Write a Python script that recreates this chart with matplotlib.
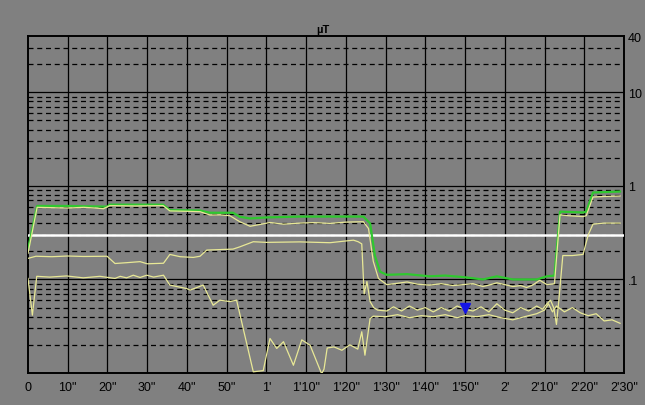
import matplotlib
matplotlib.use("Agg")
import matplotlib.pyplot as plt

plt.rcParams['font.family'] = ['Liberation Sans Narrow', 'Liberation Sans', 'DejaVu Sans']

# tiempo en segundos, valores en microTesla
x_ticks = [0, 10, 20, 30, 40, 50, 60, 70, 80, 90, 100, 110, 120, 130, 140, 150]
x_labels = ['0', '10"', '20"', '30"', '40"', '50"', "1'", "1'10\"", "1'20\"", "1'30\"",
            "1'40\"", "1'50\"", "2'", "2'10\"", "2'20\"", "2'30\""]
y_ticks = [0.1, 1, 10, 40]
y_labels = ['.1', '1', '10', '40']

green_t = [0, 2.3, 10, 19.9, 20.6, 34, 35.7, 43.3, 45.8, 51.6, 53.3, 55.9, 60, 68.4, 76,
           84.4, 86.1, 87.3, 88.6, 90.3, 95.4, 101, 105, 109.5, 114.5, 118, 122, 128,
           130.6, 132.5, 133.9, 139.7, 140.5, 142.2, 149]
green_v = [0.21, 0.61, 0.61, 0.60, 0.63, 0.63, 0.55, 0.545, 0.516, 0.516, 0.467, 0.449,
           0.46, 0.47, 0.47, 0.47, 0.397, 0.18, 0.121, 0.112, 0.114, 0.108, 0.11, 0.106,
           0.10, 0.108, 0.10, 0.10, 0.108, 0.11, 0.53, 0.52, 0.53, 0.85, 0.87]

a_t = [0, 2.3, 6, 10, 14, 17, 19, 20.6, 27, 34, 35.7, 40, 43.3, 45.8, 48.3, 50.8, 53.3,
       55.9, 58.4, 60.9, 64.3, 68.4, 72, 76, 80, 84.4, 85.7, 86.9, 88.2, 90.3, 93, 95.4,
       98, 101, 104, 107, 109.5, 112, 114.5, 116, 118, 120, 122, 124, 125.5, 127, 128.8,
       130.6, 132.5, 133.9, 136, 139.7, 140.5, 142.2, 145, 149]
a_v = [0.19, 0.59, 0.585, 0.58, 0.59, 0.58, 0.57, 0.615, 0.61, 0.615, 0.54, 0.535, 0.53,
       0.488, 0.49, 0.48, 0.414, 0.37, 0.387, 0.406, 0.39, 0.40, 0.405, 0.397, 0.41,
       0.414, 0.35, 0.156, 0.1025, 0.088, 0.091, 0.094, 0.089, 0.087, 0.09, 0.086, 0.088,
       0.09, 0.084, 0.087, 0.092, 0.088, 0.084, 0.086, 0.082, 0.087, 0.098, 0.088, 0.09,
       0.49, 0.48, 0.47, 0.48, 0.76, 0.77, 0.78]

b_t = [0, 2, 6, 10, 14, 19.9, 21.9, 24.8, 28.2, 30, 34.1, 35.7, 38.3, 41.6, 43.3, 45,
       51.6, 53.3, 56.7, 60, 68.4, 76, 81.9, 83.1, 84.0, 84.6, 85.3, 86.1, 87, 88, 90.3,
       92, 94, 96, 98, 100, 102, 104, 106, 108, 110, 112, 114, 116, 118, 120, 122, 124,
       126, 128, 129.5, 130.6, 131.5, 132.3, 133, 133.6, 134.6, 137, 139.7, 141, 142.2,
       145, 149]
b_v = [0.168, 0.177, 0.175, 0.178, 0.176, 0.177, 0.148, 0.151, 0.155, 0.147, 0.149,
       0.185, 0.175, 0.172, 0.177, 0.206, 0.211, 0.223, 0.253, 0.249, 0.252, 0.247,
       0.263, 0.253, 0.24, 0.07, 0.095, 0.058, 0.05, 0.047, 0.046,
       0.051, 0.046, 0.052, 0.047, 0.05, 0.045, 0.05, 0.046, 0.052, 0.048, 0.046, 0.051,
       0.045, 0.055, 0.047, 0.044, 0.05, 0.046, 0.052, 0.048, 0.055, 0.06, 0.05, 0.033,
       0.06, 0.18, 0.18, 0.185, 0.3, 0.39, 0.40, 0.40]

c_t = [0, 1.1, 2.2, 5.5, 9.7, 13.9, 18.1, 21.9, 23.2, 24.8, 26.5, 28.2, 29.9, 31.6,
       34.1, 35.7, 39.9, 40.8, 44.1, 46.6, 48.3, 50.8, 52.5, 56.7, 59.2, 60.9, 62.6,
       64.3, 66.8, 68.9, 71, 73.9, 74.5, 75.3, 77, 79, 81, 83, 84, 84.8, 86.1, 86.9,
       90, 93, 96, 99, 102, 105, 108, 110, 113, 116, 119, 122, 125, 128, 130, 131, 132,
       133, 135, 137, 139, 141, 143, 145, 147, 149]
c_v = [0.1025, 0.0415, 0.108, 0.106, 0.109, 0.104, 0.108, 0.1025, 0.108, 0.104, 0.111,
       0.105, 0.111, 0.106, 0.111, 0.087, 0.080, 0.077, 0.087, 0.053, 0.060, 0.058,
       0.060, 0.0103, 0.0106, 0.0234, 0.0183, 0.0216, 0.0121, 0.0226, 0.0198, 0.0098,
       0.011, 0.0185, 0.019, 0.0175, 0.020, 0.018, 0.0276, 0.0155, 0.0383, 0.0405,
       0.040, 0.042, 0.039, 0.041, 0.040, 0.042, 0.039, 0.041, 0.040, 0.042, 0.039,
       0.037, 0.040, 0.043, 0.047, 0.055, 0.045, 0.052, 0.045, 0.05, 0.044, 0.041,
       0.043, 0.036, 0.037, 0.034]

limite = 0.3
marca_t, marca_v = 110, 0.05

grey = '#808080'
yellow = '#e8e896'
green = '#2fc82f'

fig = plt.figure(figsize=(6.45, 4.06), dpi=100, facecolor=grey)
ax = fig.add_axes([28/645, 1 - 374/406, 596/645, 337/406])
ax.set_facecolor(grey)
ax.set_yscale('log')
ax.set_xlim(0, 150)
ax.set_ylim(0.01, 40)

# rejilla
for t in x_ticks[1:-1]:
    ax.axvline(t, color='black', lw=0.9, zorder=1)
for dec in [0.01, 0.1, 1, 10]:
    for k in range(1, 10):
        v = dec * k
        if v >= 40 or v <= 0.01:
            continue
        if k == 1:
            ax.axhline(v, color='black', lw=0.9, zorder=1)
        else:
            ax.axhline(v, color='black', lw=0.9, ls=(0, (4, 3)), zorder=1)

ax.axhline(limite, color='white', lw=1.8, zorder=3)

ax.plot(c_t, c_v, color=yellow, lw=0.9, zorder=4)
ax.plot(b_t, b_v, color=yellow, lw=0.9, zorder=4)
ax.plot(green_t, green_v, color=green, lw=1.6, zorder=5)
ax.plot(a_t, a_v, color=yellow, lw=0.9, zorder=6)
ax.plot(marca_t, marca_v, marker='v', color='#1414e6', ms=7, zorder=7, ls='none')

for s in ax.spines.values():
    s.set_color('black')
    s.set_linewidth(1.4)

ax.yaxis.tick_right()
ax.set_yticks(y_ticks)
ax.set_yticklabels(y_labels)
ax.yaxis.set_minor_locator(matplotlib.ticker.NullLocator())
ax.set_xticks(x_ticks)
ax.set_xticklabels(x_labels)
ax.tick_params(length=0, labelsize=9, colors='black')
ax.tick_params(axis='y', pad=3)
ax.tick_params(axis='x', pad=6)
for lab in ax.get_yticklabels():
    lab.set_horizontalalignment('left')

fig.text(323/645, 1 - 30/406, 'µT', ha='center', va='center', fontsize=8,
         fontweight='bold', color='black')

fig.savefig('out.png', dpi=100, facecolor=grey)
